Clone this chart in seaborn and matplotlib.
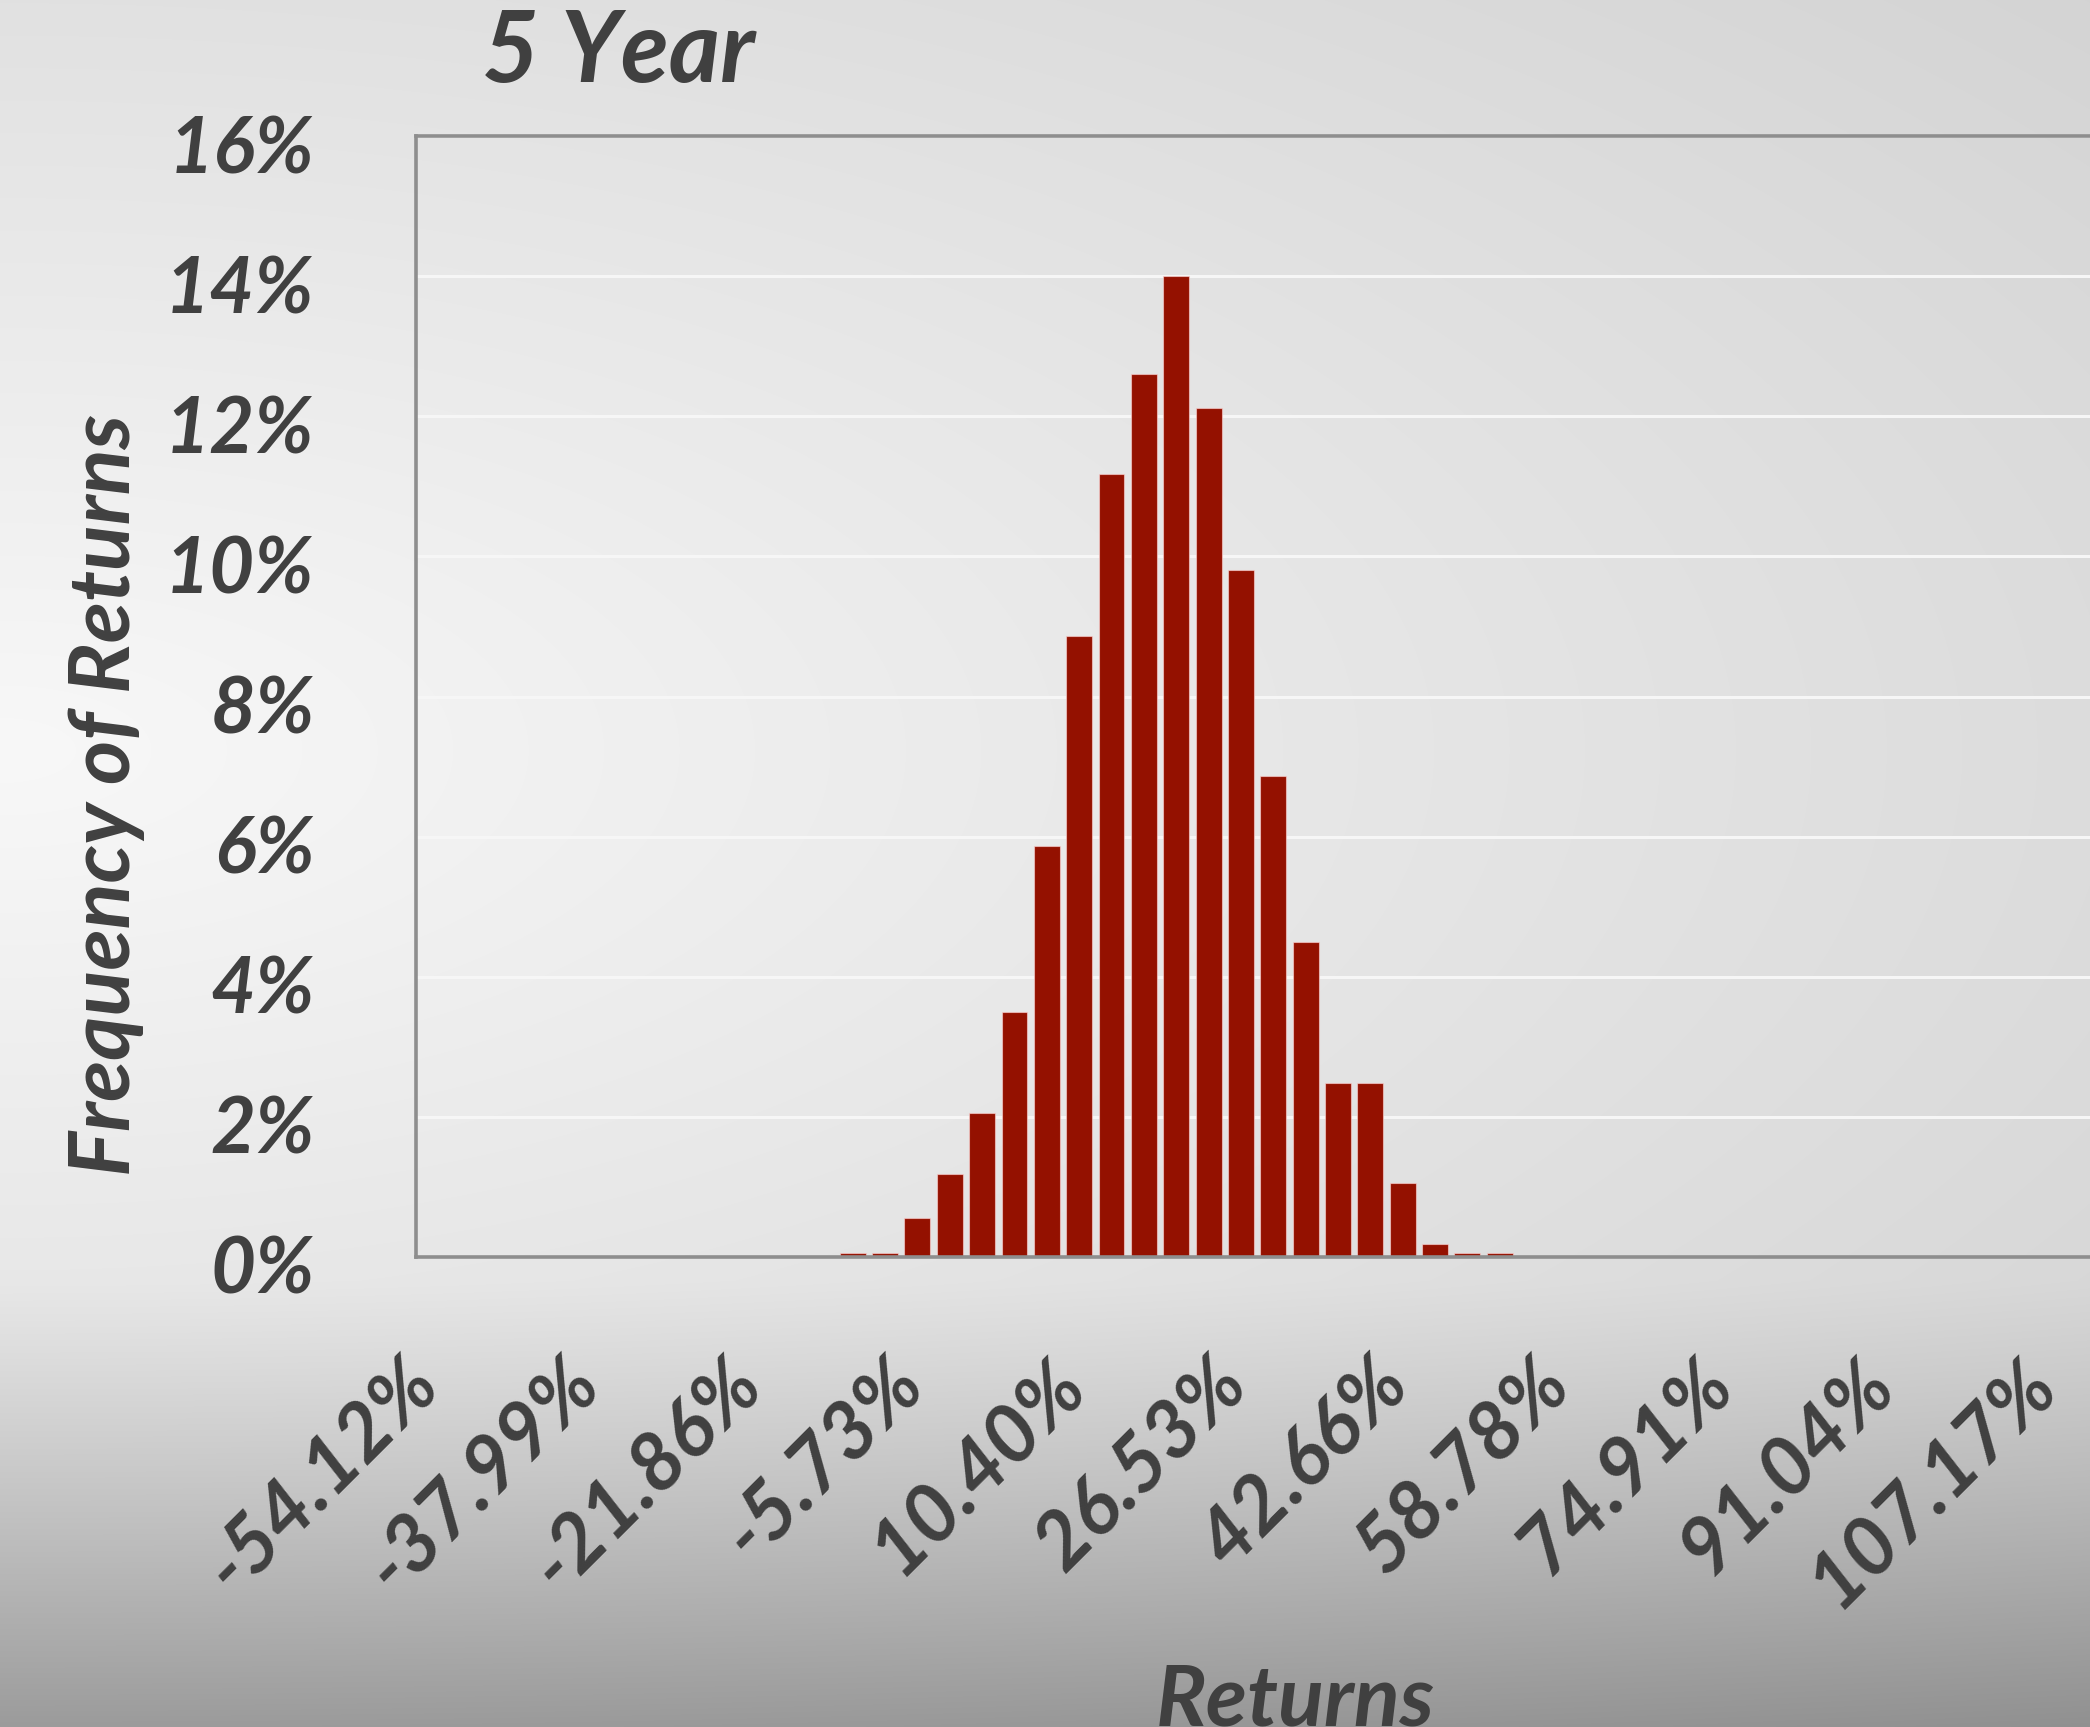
import numpy as np
import pandas as pd
import matplotlib
matplotlib.use("Agg")
import matplotlib.pyplot as plt
import matplotlib.transforms as mtransforms
import seaborn as sns

# Histogram of simulated 5-year returns: frequency (%) per return bin
bin_index = list(range(34))
frequency = [0, 0, 0, 0, 0, 0, 0, 0, 0, 0, 0, 0, 0,
             0.05, 0.05, 0.56, 1.19, 2.05, 3.49, 5.87, 8.87, 11.18,
             12.61, 14.00, 12.12, 9.80, 6.86, 4.49, 2.49, 2.49, 1.06,
             0.18, 0.05, 0.05]

# Category-axis labels shown on every fifth bin
tick_bins = [0, 5, 10, 15, 20, 25, 30, 35, 40, 45, 50]
tick_labels = ["-54.12%", "-37.99%", "-21.86%", "-5.73%", "10.40%", "26.53%",
               "42.66%", "58.78%", "74.91%", "91.04%", "107.17%"]
y_ticks = [0, 2, 4, 6, 8, 10, 12, 14, 16]
y_labels = ["0%", "2%", "4%", "6%", "8%", "10%", "12%", "14%", "16%"]

title_text = "5 Year"
x_title = "Returns"
y_title = "Frequency of Returns"

sns.set_style("white")
plt.rcParams["font.family"] = ["Lato", "DejaVu Sans"]
plt.rcParams["font.weight"] = "bold"
plt.rcParams["font.style"] = "italic"

W, H, DPI = 2090, 1727, 100
TEXT = "#404040"
BAR = "#941100"
AXIS = "#8e8e8e"

fig = plt.figure(figsize=(W / DPI, H / DPI), dpi=DPI)

# Soft gray backdrop: light glow on the left, darkening toward the bottom
yy, xx = np.mgrid[0:H, 0:W].astype(float)
d = np.sqrt((xx / W) ** 2 + ((yy - 750) / 900) ** 2)
v = 248 - 27.7 * d
t = np.clip((yy - 1280) / 447, 0, 1)
v = v - 63 * t ** 1.1
v = np.clip(v, 0, 255) / 255.0
bg = np.dstack([v, v, v])
ax_bg = fig.add_axes([0, 0, 1, 1], zorder=0)
ax_bg.imshow(bg, aspect="auto", extent=(0, 1, 0, 1), interpolation="bilinear")
ax_bg.set_axis_off()

# Plot area
left_px, top_px, bottom_px = 416, 136, 1257
pitch = 32.35
ax = fig.add_axes([left_px / W, 1 - bottom_px / H,
                   1 - left_px / W, (bottom_px - top_px) / H], zorder=1)
ax.patch.set_alpha(0)

df = pd.DataFrame({"bin": bin_index, "freq": frequency})
sns.barplot(data=df, x="bin", y="freq", color=BAR, saturation=1, width=0.8,
            edgecolor=(1, 0.85, 0.85, 0.6), linewidth=0.8, ax=ax, zorder=2)
for p in ax.patches:
    p.set_facecolor(BAR)

ax.set_xlim(-0.5, -0.5 + (W - left_px) / pitch)
ax.set_ylim(0, 16)

ax.set_yticks(y_ticks)
ax.set_yticklabels(y_labels, fontsize=56, color=TEXT, fontweight="bold",
                   fontstyle="italic")
ax.set_xticks(tick_bins)
ax.set_xticklabels(tick_labels, fontsize=58, color=TEXT, fontweight="bold",
                   fontstyle="italic", rotation=45, ha="right", va="top")
ax.tick_params(axis="y", length=0, pad=73)
ax.tick_params(axis="x", length=0, pad=64)
yshift = mtransforms.ScaledTranslation(0, -8 / DPI, fig.dpi_scale_trans)
for lab in ax.get_yticklabels():
    lab.set_transform(lab.get_transform() + yshift)
xshift = mtransforms.ScaledTranslation(20 / DPI, 0, fig.dpi_scale_trans)
for lab in ax.get_xticklabels():
    lab.set_transform(lab.get_transform() + xshift)

ax.set_xlabel("")
ax.set_ylabel("")
ax.yaxis.grid(True, color="#f6f6f6", linewidth=2.2)
ax.xaxis.grid(False)
ax.set_axisbelow(True)

for side in ("left", "top", "bottom"):
    ax.spines[side].set_visible(True)
    ax.spines[side].set_color(AXIS)
    ax.spines[side].set_linewidth(2.6)
    ax.spines[side].set_zorder(3)
ax.spines["right"].set_visible(False)

fig.text(482 / W, 1 - 82 / H, title_text, fontsize=71, color=TEXT,
         fontweight="bold", fontstyle="italic", ha="left", va="baseline")
fig.text(106 / W, 1 - 795 / H, y_title, fontsize=61, color=TEXT,
         fontweight="bold", fontstyle="italic", rotation=90,
         ha="center", va="center")
fig.text(1295 / W, 1 - 1725 / H, x_title, fontsize=61, color=TEXT,
         fontweight="bold", fontstyle="italic", ha="center", va="baseline")

fig.savefig("out.png", dpi=DPI)
